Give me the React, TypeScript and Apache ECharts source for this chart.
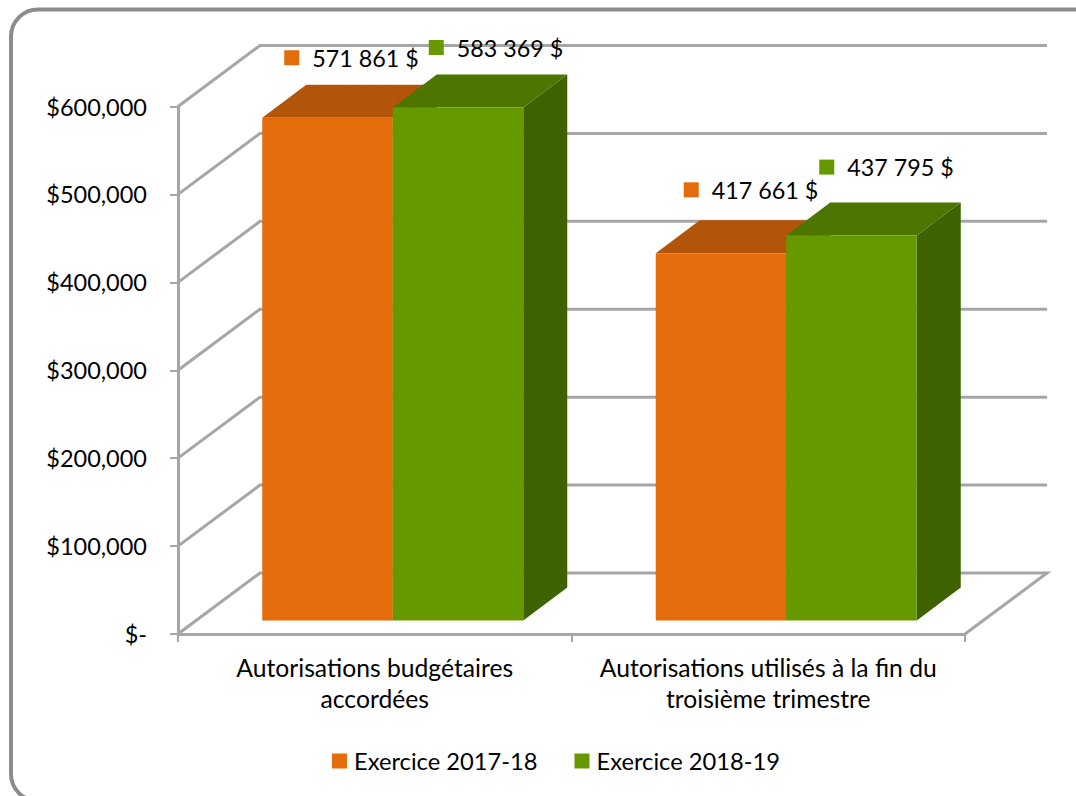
import React, { useEffect, useRef } from "react";
import * as echarts from "echarts";

const categories = [
  "Autorisations budgétaires\naccordées",
  "Autorisations utilisés à la fin du\ntroisième trimestre",
];
const seriesNames = ["Exercice 2017-18", "Exercice 2018-19"];
const values2017 = [571861, 417661];
const values2018 = [583369, 437795];
const tickValues = [0, 100000, 200000, 300000, 400000, 500000, 600000];
const tickLabels = ["$-", "$100,000", "$200,000", "$300,000", "$400,000", "$500,000", "$600,000"];

const FONT = "Lato";
const LINE = "#a6a6a6";
const WALL_DX = 82;
const WALL_DY = 61;
const BAR_W = 130.5;
const BAR_LIFT = 13.5;
const BAR_SHIFT = 18;
const DEPTH_DX = 44;
const DEPTH_DY = 33;
const KEY = 15;
const orangeColors = { front: "#e46c0a", top: "#b35508", side: "#a04c06" };
const greenColors = { front: "#669900", top: "#4e7500", side: "#3f6200" };
const labelOffsets2017 = [[22, -67.5], [28, -71]];
const labelOffsets2018 = [[36, -67.6], [33, -76]];

const fmt = (v: number) => {
  const s = String(v);
  return s.slice(0, s.length - 3) + " " + s.slice(-3) + " $";
};

const gridItem = (params: any, api: any) => {
  const v = api.value(1);
  const p = api.coord([0, v]);
  const band = api.size([1, 0])[0];
  const left = p[0] - band / 2;
  const right = left + band * 2;
  const y = p[1];
  const style = { stroke: LINE, lineWidth: 3, fill: "none" };
  const pts = [[left, y], [left + WALL_DX, y - WALL_DY], [right + WALL_DX, y - WALL_DY]];
  if (v === 0) pts.push([right, y]);
  return { type: "polyline", shape: { points: pts }, style };
};

const barItem = (order: number, colors: any, offsets: number[][]) => (params: any, api: any) => {
  const cat = api.value(0);
  const v = api.value(1);
  const top = api.coord([cat, v]);
  const base = api.coord([cat, 0]);
  const x0 = top[0] + BAR_SHIFT + (order - 1) * BAR_W;
  const x1 = x0 + BAR_W;
  const yb = base[1] - BAR_LIFT;
  const yt = top[1] - BAR_LIFT;
  const [ox, oy] = offsets[cat];
  return {
    type: "group",
    children: [
      {
        type: "polygon",
        shape: { points: [[x1, yt], [x1 + DEPTH_DX, yt - DEPTH_DY], [x1 + DEPTH_DX, yb - DEPTH_DY], [x1, yb]] },
        style: { fill: colors.side },
      },
      {
        type: "polygon",
        shape: { points: [[x0, yt], [x0 + DEPTH_DX, yt - DEPTH_DY], [x1 + DEPTH_DX, yt - DEPTH_DY], [x1, yt]] },
        style: { fill: colors.top },
      },
      { type: "rect", shape: { x: x0, y: yt, width: BAR_W, height: yb - yt }, style: { fill: colors.front } },
      { type: "rect", shape: { x: x0 + ox, y: yt + oy, width: KEY, height: KEY }, style: { fill: colors.front } },
      {
        type: "text",
        x: x0 + ox + 28,
        y: yt + oy + KEY / 2,
        style: { text: fmt(v), fill: "#000", font: `23.3px ${FONT}`, align: "left", verticalAlign: "middle" },
      },
    ],
  };
};

export default function App() {
  const ref = useRef<HTMLDivElement>(null);
  useEffect(() => {
    const chart = echarts.init(ref.current!, undefined, { renderer: "svg" });
    chart.setOption({
      animation: false,
      backgroundColor: "#fff",
      graphic: [
        {
          type: "rect",
          shape: { x: 11, y: 9.5, width: 1100, height: 791.5, r: 27 },
          style: { fill: "none", stroke: "#8c8c8c", lineWidth: 4 },
        },
      ],
      grid: { left: 178, top: 106.5, width: 787, height: 527.5, containLabel: false },
      legend: {
        left: 332,
        top: 749,
        padding: 0,
        data: seriesNames,
        icon: "rect",
        itemWidth: 15,
        itemHeight: 15,
        itemGap: 37,
        selectedMode: false,
        textStyle: { fontFamily: FONT, fontSize: 23.7, color: "#000", padding: [0, 0, 0, 2] },
      },
      xAxis: {
        type: "category",
        data: categories,
        axisLine: { show: true, lineStyle: { color: LINE, width: 3 } },
        axisTick: { show: true, length: 8, lineStyle: { color: LINE, width: 2 } },
        axisLabel: { fontFamily: FONT, fontSize: 24.7, color: "#000", lineHeight: 31, margin: 18, interval: 0 },
      },
      yAxis: {
        type: "value",
        min: 0,
        max: 600000,
        interval: 100000,
        splitLine: { show: false },
        axisLine: { show: true, lineStyle: { color: LINE, width: 3 } },
        axisTick: { show: true, length: 8, lineStyle: { color: LINE, width: 2 } },
        axisLabel: {
          fontFamily: FONT,
          fontSize: 23.5,
          color: "#000",
          margin: 31,
          formatter: (v: number) => tickLabels[tickValues.indexOf(v)],
        },
      },
      series: [
        {
          type: "custom",
          name: "walls",
          renderItem: gridItem,
          clip: false,
          encode: { x: 0, y: 1 },
          data: tickValues.map((v) => [0, v]),
        },
        {
          type: "custom",
          name: seriesNames[0],
          itemStyle: { color: orangeColors.front },
          renderItem: barItem(0, orangeColors, labelOffsets2017),
          clip: false,
          encode: { x: 0, y: 1 },
          data: values2017.map((v, i) => [i, v]),
        },
        {
          type: "custom",
          name: seriesNames[1],
          itemStyle: { color: greenColors.front },
          renderItem: barItem(1, greenColors, labelOffsets2018),
          clip: false,
          encode: { x: 0, y: 1 },
          data: values2018.map((v, i) => [i, v]),
        },
      ],
    });
    return () => chart.dispose();
  }, []);
  return <div ref={ref} style={{ position: "absolute", left: 0, top: 0, width: 1076, height: 796 }} />;
}
